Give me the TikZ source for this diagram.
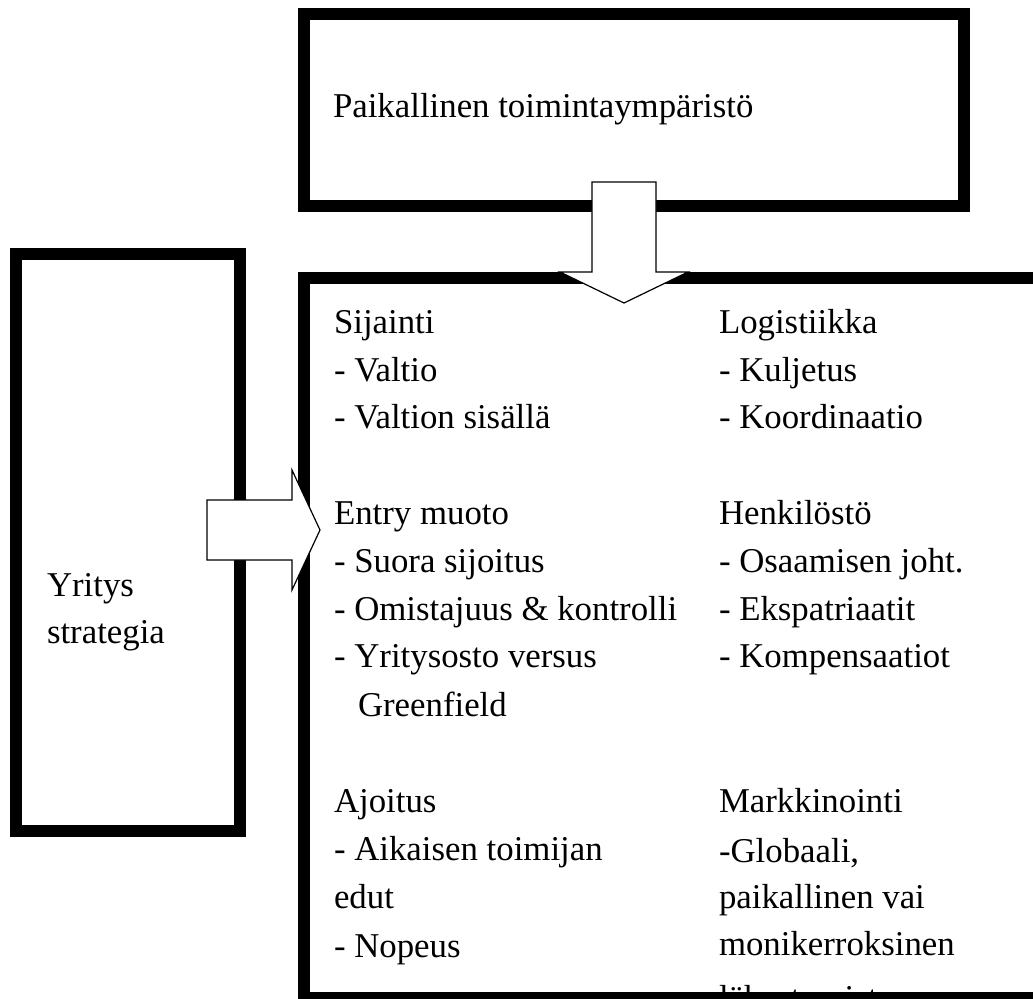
\documentclass[tikz,border=0pt]{standalone}
\usepackage{fontspec}
\setmainfont{Liberation Serif}
\usepackage{tikz}
\begin{document}
\begin{tikzpicture}[x=0.5pt, y=-0.5pt, line width=6pt,
  font=\fontsize{17.4}{24}\selectfont,
  txt/.style={anchor=base west, inner sep=0pt},
  blockarrow/.style={draw, fill=white, line width=0.6pt, line join=miter}]
  \useasboundingbox (0,0) rectangle (1033,998);
  \clip (0,0) rectangle (1033,998);
  % frames
  \draw (304,14) rectangle (964,206);
  \draw (16,254) rectangle (240,831);
  \draw (304,278) rectangle (1060,998);
  % block arrows
  \draw[blockarrow] (592,182) -- (656,182) -- (656,272) -- (688,272) -- (624,303)
    -- (560,272) -- (592,272) -- cycle;
  \draw[blockarrow] (207,500) -- (292,500) -- (292,470) -- (320,530) -- (292,590)
    -- (292,560) -- (207,560) -- cycle;
  % texts
  \node[txt] (env) at (327,117) {Paikallinen toimintaympäristö};
  \node[txt] (strat1) at (41,596) {Yritys};
  \node[txt] (strat2) at (41,643) {strategia};
  \node[txt] (loc) at (328,333) {Sijainti};
  \node[txt] (loc1) at (328,381) {- Valtio};
  \node[txt] (loc2) at (328,428) {- Valtion sisällä};
  \node[txt] (entry) at (328,524) {Entry muoto};
  \node[txt] (entry1) at (328,572) {- Suora sijoitus};
  \node[txt] (entry2) at (328,620) {- Omistajuus \& kontrolli};
  \node[txt] (entry3) at (328,667) {- Yritysosto versus};
  \node[txt] (entry4) at (352,716) {Greenfield};
  \node[txt] (timing) at (328,812) {Ajoitus};
  \node[txt] (timing1) at (328,860) {- Aikaisen toimijan};
  \node[txt] (timing2) at (328,908) {edut};
  \node[txt] (timing3) at (328,957) {- Nopeus};
  \node[txt] (log) at (713,333) {Logistiikka};
  \node[txt] (log1) at (713,381) {- Kuljetus};
  \node[txt] (log2) at (713,428) {- Koordinaatio};
  \node[txt] (hr) at (713,524) {Henkilöstö};
  \node[txt] (hr1) at (713,572) {- Osaamisen joht.};
  \node[txt] (hr2) at (713,620) {- Ekspatriaatit};
  \node[txt] (hr3) at (713,667) {- Kompensaatiot};
  \node[txt] (mkt) at (713,812) {Markkinointi};
  \node[txt] (mkt1) at (713,862) {-Globaali,};
  \node[txt] (mkt2) at (713,908) {paikallinen vai};
  \node[txt] (mkt3) at (713,955) {monikerroksinen};
  \node[txt] (mkt4) at (713,1009) {lähestymistapa};
  % bottom frame line over the cut text
  \draw (304,998) -- (1060,998);
\end{tikzpicture}
\end{document}
